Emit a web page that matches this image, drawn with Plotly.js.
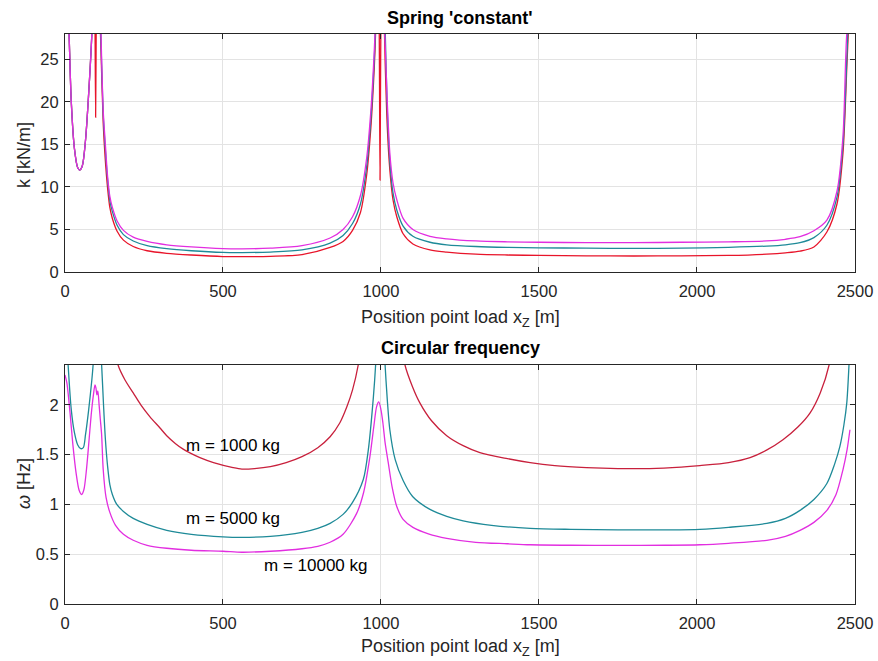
<!DOCTYPE html>
<html>
<head>
<meta charset="utf-8">
<script src="https://cdn.plot.ly/plotly-3.0.1.min.js"></script>
<style>html,body{margin:0;padding:0;background:#fff;}#chart{width:878px;height:661px;}</style>
</head>
<body>
<div id="chart"></div>
<script>
// ---- Top plot: spring 'constant' k [kN/m] vs position x_Z [m] ----
const xKRed = [0,5,13,20,30,40,47,55,65,75,85,90,93,95,97,99,101,106,114,121,127,135,142,150,165,185,216,260,322,400,500,560,650,750,839,880,910,935,955,968,976,981,987,992,995,997,999,1003,1008,1013,1020,1028,1038,1050,1070,1101,1155,1208,1300,1400,1500,1650,1800,1950,2100,2221,2280,2326,2370,2411,2443,2462,2474,2483,2490];
const kRed  = [50,38,28,20,14.5,12.3,12,12.5,15.5,21,28,36,45,30,18.2,30,45,36,26,17.5,13.5,9.8,7.6,6.3,4.8,3.75,3.0,2.5,2.2,2.0,1.82,1.8,1.85,2.05,2.9,3.6,4.9,7,11.5,17,22,26,33,40,25,10.8,25,40,33,25,17,12,8.5,6.5,4.5,3.3,2.6,2.35,2.1,2.0,1.95,1.9,1.88,1.9,1.95,2.1,2.25,2.45,2.95,4.7,8,14,24,32,42];

const xKTeal = [0,5,13,20,30,40,47,55,65,75,85,90,95,100,105,110,114,121,127,135,142,150,165,185,216,260,322,400,500,560,650,750,839,880,910,935,955,968,976,981,987,993,1000,1006,1013,1020,1028,1038,1050,1070,1101,1155,1208,1300,1400,1500,1650,1800,1950,2100,2221,2280,2326,2370,2411,2443,2462,2474,2481,2488];
const kTeal  = [50,38,28,20,14.5,12.3,12,12.5,15.5,21,28,35,40,42,40,33,27,18.5,14.8,10.8,8.4,7.1,5.5,4.4,3.65,3.1,2.75,2.5,2.3,2.28,2.35,2.6,3.4,4.3,5.7,8,12.5,18,23,27,34,40,42,38,29,19,13,9.3,7.3,5.4,4.2,3.5,3.2,3.0,2.9,2.85,2.8,2.78,2.8,2.9,3.05,3.2,3.45,4.05,5.5,8.8,15,25,32,40];

const xKMag = [0,5,13,20,30,40,47,55,65,75,85,90,95,100,105,110,114,121,127,135,142,150,165,185,216,260,322,400,500,560,650,750,839,880,910,935,955,968,976,981,987,993,1000,1006,1013,1020,1028,1038,1050,1070,1101,1155,1208,1300,1400,1500,1650,1800,1950,2100,2221,2280,2326,2370,2411,2443,2462,2474,2484];
const kMag  = [50,38,28,20,14.5,12.3,12,12.5,15.5,21,28,35,48,45,48,35,28,19,15.5,11.2,8.9,7.6,6.0,4.9,4.1,3.6,3.2,2.95,2.75,2.72,2.8,3.1,4.0,5.0,6.5,9,13.5,19,24,28,36,41,38,33,27,20,14,10.5,8.5,6.3,5.0,4.2,3.9,3.65,3.55,3.5,3.45,3.45,3.5,3.55,3.65,3.85,4.15,4.85,6.1,9.5,16,28,31];

// ---- Bottom plot: circular frequency omega [Hz] vs position x_Z [m] ----
const xWRed = [140,168,190,216,240,269,300,322,350,374,400,427,470,532,560,600,650,700,750,800,839,870,892,910,928,945,1060,1076,1100,1123,1160,1208,1260,1313,1400,1472,1550,1650,1750,1850,1950,2009,2100,2168,2220,2272,2320,2358,2390,2418,2435];
const wRed  = [2.9,2.4,2.25,2.12,2.0,1.88,1.77,1.69,1.61,1.555,1.51,1.47,1.42,1.37,1.355,1.36,1.38,1.42,1.48,1.57,1.68,1.82,1.98,2.15,2.4,2.8,2.8,2.4,2.18,2.02,1.84,1.69,1.59,1.52,1.46,1.42,1.39,1.37,1.36,1.36,1.375,1.39,1.42,1.47,1.545,1.65,1.78,1.92,2.12,2.4,2.8];

const xWTeal = [0,10,20,30,40,50,58,65,75,85,89,95,105,112,116,122,128,135,142,150,164,185,216,260,322,400,500,560,650,750,800,839,880,910,944,960,976,983,990,1000,1006,1013,1020,1028,1045,1070,1100,1155,1208,1260,1350,1472,1600,1750,1900,2009,2100,2221,2280,2326,2370,2411,2435,2452,2465,2474,2481,2488];
const wTeal  = [3.0,2.4,1.95,1.72,1.6,1.56,1.57,1.7,1.95,2.25,2.4,2.8,2.9,2.6,2.4,2.0,1.65,1.38,1.2,1.1,1.0,0.93,0.86,0.8,0.74,0.7,0.675,0.67,0.68,0.72,0.76,0.81,0.9,1.02,1.25,1.55,2.08,2.4,2.9,3.0,2.9,2.4,2.05,1.75,1.45,1.24,1.08,0.95,0.88,0.835,0.79,0.76,0.75,0.745,0.745,0.75,0.77,0.81,0.86,0.94,1.05,1.21,1.4,1.58,1.8,2.02,2.4,2.9];

const xWMag = [0,6,16,25,35,45,53,60,68,75,83,90,95,98,101,104,108,112,116,121,130,142,160,185,216,260,322,400,500,560,650,750,800,839,880,923,945,965,978,986,993,1000,1006,1013,1023,1035,1050,1070,1101,1150,1208,1300,1400,1472,1600,1750,1900,2009,2100,2221,2280,2326,2370,2411,2440,2462,2475,2484];
const wMag  = [2.3,2.22,1.92,1.6,1.32,1.14,1.1,1.15,1.35,1.6,1.9,2.1,2.2,2.17,2.1,2.14,2.0,1.85,1.7,1.35,1.07,0.92,0.79,0.7,0.64,0.59,0.56,0.54,0.53,0.52,0.53,0.555,0.58,0.62,0.7,0.91,1.12,1.48,1.8,1.98,2.03,1.95,1.82,1.62,1.42,1.18,0.98,0.85,0.77,0.705,0.66,0.62,0.605,0.595,0.59,0.588,0.59,0.595,0.61,0.64,0.68,0.74,0.82,0.94,1.1,1.35,1.55,1.75];

const xTickVals = [0,500,1000,1500,2000,2500];
const kTickVals = [0,5,10,15,20,25];
const wTickVals = [0,0.5,1,1.5,2];
const massLabels = ['m = 1000 kg','m = 5000 kg','m = 10000 kg'];

const cRedTop = '#e8142a', cRedBot = '#c8203c', cTeal = '#1e8a98', cMag = '#e22ee0';
const lw = 1.3;
const ln = (c) => ({color:c, width:lw, shape:'spline', smoothing:0.8});

const traces = [
  {x:xKRed, y:kRed, xaxis:'x', yaxis:'y', mode:'lines', line:ln(cRedTop)},
  {x:xKTeal, y:kTeal, xaxis:'x', yaxis:'y', mode:'lines', line:ln(cTeal)},
  {x:xKMag, y:kMag, xaxis:'x', yaxis:'y', mode:'lines', line:ln(cMag)},
  {x:xWRed, y:wRed, xaxis:'x2', yaxis:'y2', mode:'lines', line:ln(cRedBot)},
  {x:xWTeal, y:wTeal, xaxis:'x2', yaxis:'y2', mode:'lines', line:ln(cTeal)},
  {x:xWMag, y:wMag, xaxis:'x2', yaxis:'y2', mode:'lines', line:ln(cMag)}
];

const F = 'Liberation Sans, Arial, sans-serif';
const axBase = {
  showline:true, mirror:'ticks', linecolor:'#262626', linewidth:1,
  ticks:'inside', ticklen:5, tickcolor:'#262626',
  showgrid:true, gridcolor:'#e3e3e3', gridwidth:1, zeroline:false,
  tickfont:{family:F, size:16.5, color:'#262626'}
};

const layout = {
  width:878, height:661, margin:{l:0,r:0,t:0,b:0},
  paper_bgcolor:'#ffffff', plot_bgcolor:'#ffffff', showlegend:false,
  xaxis: Object.assign({}, axBase, {domain:[0.074,0.9738], range:[0,2500], tickvals:xTickVals, anchor:'y', ticklabelstandoff:4}),
  yaxis: Object.assign({}, axBase, {domain:[0.5885,0.9486], range:[0,28], tickvals:kTickVals, anchor:'x', ticklabelstandoff:2}),
  xaxis2: Object.assign({}, axBase, {domain:[0.074,0.9738], range:[0,2500], tickvals:xTickVals, anchor:'y2', ticklabelstandoff:4}),
  yaxis2: Object.assign({}, axBase, {domain:[0.0862,0.4478], range:[0,2.4], tickvals:wTickVals, anchor:'x2', ticklabelstandoff:2}),
  annotations: [
    {text:"<b>Spring 'constant'</b>", xref:'paper', yref:'paper', x:0.524, y:1-18/661, showarrow:false, font:{family:F,size:18,color:'#000'}, yanchor:'middle'},
    {text:"<b>Circular frequency</b>", xref:'paper', yref:'paper', x:0.524, y:1-348/661, showarrow:false, font:{family:F,size:18,color:'#000'}, yanchor:'middle'},
    {text:"Position point load x<sub>Z</sub> [m]", xref:'paper', yref:'paper', x:0.524, y:1-318/661, showarrow:false, font:{family:F,size:18,color:'#262626'}, yanchor:'middle'},
    {text:"Position point load x<sub>Z</sub> [m]", xref:'paper', yref:'paper', x:0.524, y:1-647/661, showarrow:false, font:{family:F,size:18,color:'#262626'}, yanchor:'middle'},
    {text:"k [kN/m]", xref:'paper', yref:'paper', x:24/878, y:1-155/661, showarrow:false, textangle:-90, font:{family:F,size:18,color:'#262626'}, xanchor:'center', yanchor:'middle'},
    {text:"<i>ω</i> [Hz]", xref:'paper', yref:'paper', x:24/878, y:1-484/661, showarrow:false, textangle:-90, font:{family:F,size:18,color:'#262626'}, xanchor:'center', yanchor:'middle'},
    {text:massLabels[0], xref:'x2', yref:'y2', x:533, y:1.59, showarrow:false, font:{family:F,size:17,color:'#000'}},
    {text:massLabels[1], xref:'x2', yref:'y2', x:533, y:0.86, showarrow:false, font:{family:F,size:17,color:'#000'}},
    {text:massLabels[2], xref:'x2', yref:'y2', x:793, y:0.39, showarrow:false, font:{family:F,size:17,color:'#000'}}
  ]
};

Plotly.newPlot('chart', traces, layout, {displayModeBar:false, staticPlot:true});
</script>
</body>
</html>
